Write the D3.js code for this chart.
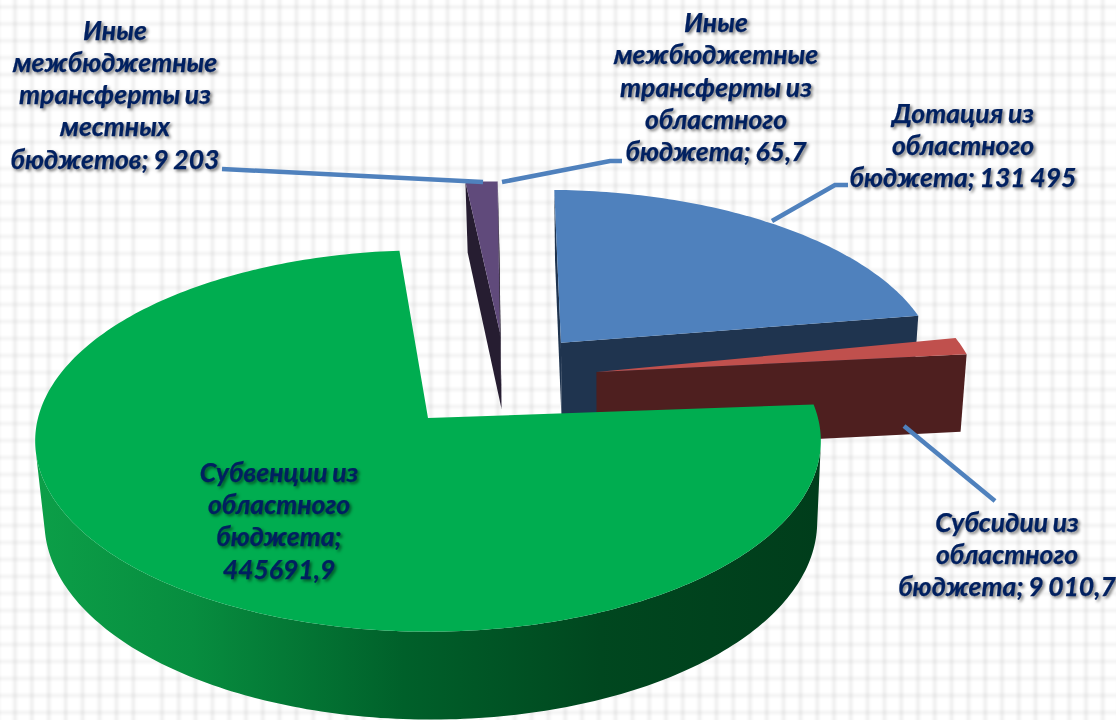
<!DOCTYPE html>
<html><head><meta charset="utf-8">
<script src="https://cdn.jsdelivr.net/npm/d3@7/dist/d3.min.js"></script>
<style>
html,body{margin:0;padding:0;background:#fff;overflow:hidden}
svg{display:block}
text{font-family:Lato,"Open Sans","Noto Sans",sans-serif;font-weight:700;font-style:italic;font-size:26.5px;fill:#002060;stroke:#002060;stroke-width:.25px;text-anchor:middle;word-spacing:-1.2px}
</style></head><body>
<svg id="c" width="1116" height="720"></svg>
<script>
// --- data ---
const categories = ["Дотация из областного бюджета","Субсидии из областного бюджета","Субвенции из областного бюджета","Иные межбюджетные трансферты из местных бюджетов","Иные межбюджетные трансферты из областного бюджета"];
const values = [131495, 9010.7, 445691.9, 9203, 65.7];
const valueLabels = ["131 495","9 010,7","445691,9","9 203","65,7"];

// --- styling / layout (not data) ---
const topColors = ["#4f81bd","#c0504d","#00ad50","#604a7b","#604a7b"];
const wallColors = ["#1f344f","#4e1f1f",null,"#261d31","#261d31"];
const explode = [[.358,.42],[.445,.252],[0,0],[.195,.482],[.195,.482]];
const nudgeDeg = [0.3,-1.7,0,0,0];
const rotation = 0.9*Math.PI/180;
const labelBlocks = [
 {x:963,y:[123,155,187],lines:["Дотация из","областного","бюджета; 131 495"]},
 {x:1007,y:[532,564,596],lines:["Субсидии из","областного","бюджета; 9 010,7"]},
 {x:279,y:[482,514,546,579],lines:["Субвенции из","областного","бюджета;","445691,9"]},
 {x:115,y:[40,72,104,136,169],lines:["Иные","межбюджетные","трансферты из","местных","бюджетов; 9 203"]},
 {x:716,y:[32,64,97,129,161],lines:["Иные","межбюджетные","трансферты из","областного","бюджета; 65,7"]}
];
const leaders = [
 [[772,221],[835,185],[848,185]],
 [[904,426],[995,501]],
 [[222,169],[483,182]],
 [[502,182],[610,161],[622,161]]
];
const gridXs = d3.range(-1,8).map(k=>15+16.9*k).concat(d3.range(0,60).map(k=>162+16.8*k));
const gridYs = d3.range(0,9).map(k=>7+16.9*k).concat(d3.range(0,34).map(k=>168.5+17*k));

const svg = d3.select("#c");
const W=1116,H=720;
const defs = svg.append("defs");

// background grid
defs.append("filter").attr("id","soft").append("feGaussianBlur").attr("stdDeviation",1.5);
const gridG = svg.append("g").attr("filter","url(#soft)");
gridG.selectAll("line.v").data(gridXs).join("line").attr("class","v")
 .attr("x1",d=>d).attr("x2",d=>d).attr("y1",-5).attr("y2",H+5)
 .attr("stroke","#000").attr("stroke-opacity",.085).attr("stroke-width",2.6);
gridG.selectAll("line.h").data(gridYs).join("line").attr("class","h")
 .attr("y1",d=>d).attr("y2",d=>d).attr("x1",-5).attr("x2",W+5)
 .attr("stroke","#000").attr("stroke-opacity",.065).attr("stroke-width",2.6);

// projection
const cx=428,cy=418,fx=390,fy=188,fd=81,p=.12,q=.012,vx=600,kx=.0165;
const xS=d3.scaleLinear().domain([0,1]).range([cx,cx+fx]);
const yS=d3.scaleLinear().domain([0,1]).range([cy,cy-fy]);
function proj(X,Z,h){
  const w0=1+p*Z, w=w0+q*h;
  let sx=xS(X/w0);
  const sy=yS(Z/w)+fd*h/w;
  sx+=(vx-sx)*kx*h;
  return [sx,sy];
}
// green wall gradient
const grad=defs.append("linearGradient").attr("id","gw").attr("gradientUnits","userSpaceOnUse")
 .attr("x1",35).attr("x2",820).attr("y1",0).attr("y2",0);
[[0,"#0c9f48"],[.2,"#078d3f"],[.47,"#00602a"],[.72,"#00471f"],[1,"#003d1b"]].forEach(s=>grad.append("stop").attr("offset",s[0]).attr("stop-color",s[1]));

const arcs=d3.pie().sort(null).startAngle(rotation).endAngle(rotation+2*Math.PI)(values);
const pathOf=pts=>d3.line()(pts)+"Z";
const area=pts=>d3.polygonArea(pts);
const pieG=svg.append("g");

arcs.forEach((a,i)=>{
  const [ex,ez]=explode[i];
  const nud=nudgeDeg[i]*Math.PI/180, a0=a.startAngle+nud, a1=a.endAngle+nud;
  const pt=(ang,h)=>proj(ex+Math.sin(ang),ez+Math.cos(ang),h);
  const apex=h=>proj(ex,ez,h);
  const g=pieG.append("g");
  const wallFill=wallColors[i]||"url(#gw)";
  const face=(pts)=>g.append("path").attr("d",pathOf(pts)).attr("fill",wallFill);
  // cut walls (culled by screen winding)
  const s=[apex(0),pt(a0,0),pt(a0,1),apex(1)];
  const e=[pt(a1,0),apex(0),apex(1),pt(a1,1)];
  if(area(s)>0) face(s);
  if(area(e)>0) face(e);
  // outer curved wall, contiguous visible runs
  const n=Math.max(2,Math.ceil((a1-a0)/(Math.PI/180)));
  const st=(a1-a0)/n;
  let run=[];
  const flush=()=>{ if(run.length>1){
      const top=run.map(t=>pt(t,0)), bot=run.map(t=>pt(t,1)).reverse();
      face(top.concat(bot));
    } run=[]; };
  for(let k=0;k<n;k++){
    const t0=a0+k*st,t1=t0+st;
    const quad=[pt(t0,0),pt(t1,0),pt(t1,1),pt(t0,1)];
    if(area(quad)>0){ if(!run.length) run.push(t0); run.push(t1);} else flush();
  }
  flush();
  // top
  const top=[apex(0)];
  for(let k=0;k<=n;k++) top.push(pt(a0+k*st,0));
  g.append("path").attr("d",pathOf(top)).attr("fill",topColors[i]);
});

// leaders
svg.append("g").selectAll("path").data(leaders).join("path")
 .attr("d",d3.line()).attr("fill","none").attr("stroke","#4f81bd").attr("stroke-width",4.5);

// labels
const lg=svg.append("g").style("filter","drop-shadow(2px 2px 1.5px rgba(0,0,0,.5))");
labelBlocks.forEach(b=>{
  b.lines.forEach((t,j)=>lg.append("text").attr("x",b.x).attr("y",b.y[j]).text(t));
});
</script></body></html>
